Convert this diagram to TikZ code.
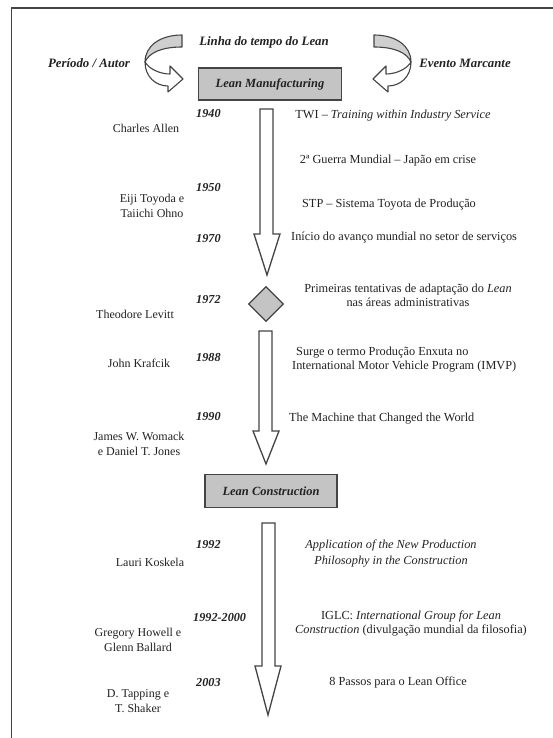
\documentclass[tikz,border=0pt]{standalone}
\usepackage{fontspec}
\setmainfont{Liberation Serif}
\usetikzlibrary{shapes.geometric}
\definecolor{ink}{HTML}{222222}
\definecolor{edge}{HTML}{444444}
\definecolor{boxfill}{HTML}{C4C4C4}
\definecolor{bandfill}{HTML}{CFCFCF}
\begin{document}
\begin{tikzpicture}[x=1pt,y=-1pt,
  person/.style={font=\fontsize{12}{14.5}\selectfont, align=center, text=ink, inner sep=0pt},
  yr/.style={font=\fontsize{12.2}{14}\bfseries\itshape\selectfont, anchor=west, text=ink, inner sep=0pt},
  ev/.style={font=\fontsize{12.3}{14}\selectfont, align=center, text=ink, inner sep=0pt},
  evl/.style={ev, align=left, anchor=west},
  hdr/.style={font=\fontsize{12.8}{14}\bfseries\itshape\selectfont, text=ink, inner sep=0pt},
  phase/.style={draw=edge, line width=1.8pt, fill=boxfill, font=\fontsize{12.5}{14}\bfseries\itshape\selectfont, text=ink, inner sep=0pt},
  blockarrow/.style={draw=edge, line width=1.3pt, fill=white, line join=miter},
  curvearrow/.style={draw=edge, line width=1.1pt, line join=round}
]
\useasboundingbox (0,0) rectangle (553,738);
\fill[white] (0,0) rectangle (553,738);
% frame
\draw[line width=1.5pt, edge] (11.5,738) -- (11.5,8) -- (553,8);

% header
\node[hdr] (title) at (264,42) {Linha do tempo do Lean};
\node[hdr] (autor) at (89,63) {Período / Autor};
\node[hdr] (evento) at (465,63) {Evento Marcante};

% curved arrows
\path[curvearrow, fill=bandfill] (182,35) .. controls (160,35) and (145,46) .. (145,62) .. controls (149,53) and (161,47) .. (182,47) -- cycle;
\path[curvearrow, fill=white] (145,62) .. controls (145,77) and (156,86) .. (168,86) -- (168,92) -- (183,79) -- (170,66) -- (170,74) .. controls (160,74) and (149,69) .. (145,62) -- cycle;
\path[curvearrow, fill=bandfill] (374,35) .. controls (396,35) and (411,46) .. (411,62) .. controls (407,53) and (395,47) .. (374,47) -- cycle;
\path[curvearrow, fill=white] (411,62) .. controls (411,77) and (400,86) .. (388,86) -- (388,92) -- (373,79) -- (386,66) -- (386,74) .. controls (396,74) and (407,69) .. (411,62) -- cycle;

% phase boxes
\node[phase, minimum width=143pt, minimum height=32pt] (lm) at (270,84) {Lean Manufacturing};
\node[phase, minimum width=132pt, minimum height=33pt] (lc) at (271,491) {Lean Construction};

% block arrows
\path[blockarrow] (260,109) -- (273,109) -- (273,234) -- (280,234) -- (267,275) -- (254,234) -- (260,234) -- cycle;
\node[diamond, draw=edge, line width=1.3pt, fill=boxfill, minimum width=35pt, minimum height=35pt, inner sep=0pt] (dia) at (266,304) {};
\path[blockarrow] (259,331) -- (272,331) -- (272,431) -- (279,431) -- (266,464) -- (253,431) -- (259,431) -- cycle;
\path[blockarrow] (262,523) -- (275,523) -- (275,666) -- (281,666) -- (268,715) -- (255,666) -- (262,666) -- cycle;

% years
\node[yr] (y1940) at (196,114) {1940};
\node[yr] (y1950) at (196,188) {1950};
\node[yr] (y1970) at (196,239) {1970};
\node[yr] (y1972) at (196,300) {1972};
\node[yr] (y1988) at (196,358) {1988};
\node[yr] (y1990) at (196,416) {1990};
\node[yr] (y1992) at (196,545) {1992};
\node[yr] (y1992b) at (193,617) {1992-2000};
\node[yr] (y2003) at (196,682) {2003};

% people
\node[person] (allen) at (146,128) {Charles Allen};
\node[person] (toyoda) at (152,206) {Eiji Toyoda e\\Taiichi Ohno};
\node[person] (levitt) at (135,314) {Theodore Levitt};
\node[person] (krafcik) at (139,363) {John Krafcik};
\node[person] (womack) at (139,444) {James W. Womack\\e Daniel T. Jones};
\node[person] (koskela) at (150,562) {Lauri Koskela};
\node[person] (howell) at (138,640) {Gregory Howell e\\Glenn Ballard};
\node[person] (tapping) at (138,701) {D. Tapping e\\T. Shaker};

% events
\node[ev] (twi) at (393,116) {TWI – \textit{Training within Industry Service}};
\node[ev] (guerra) at (388,161) {2ª Guerra Mundial – Japão em crise};
\node[ev] (stp) at (389,205) {STP – Sistema Toyota de Produção};
\node[evl] (inicio) at (291,238) {Início do avanço mundial no setor de serviços};
\node[ev] (primeiras) at (408,295) {Primeiras tentativas de adaptação do \textit{Lean}\\nas áreas administrativas};
\node[evl] (surge) at (292,360) {\hspace{4pt}Surge o termo Produção Enxuta no\\International Motor Vehicle Program (IMVP)};
\node[evl] (machine) at (289,419) {The Machine that Changed the World};
\node[ev, font=\fontsize{12.3}{16}\itshape\selectfont] (appl) at (391,553) {Application of the New Production\\Philosophy in the Construction};
\node[ev] (iglc) at (411,623) {IGLC: \textit{International Group for Lean}\\\textit{Construction} (divulgação mundial da filosofia)};
\node[ev] (passos) at (398,682) {8 Passos para o Lean Office};
\end{tikzpicture}
\end{document}
